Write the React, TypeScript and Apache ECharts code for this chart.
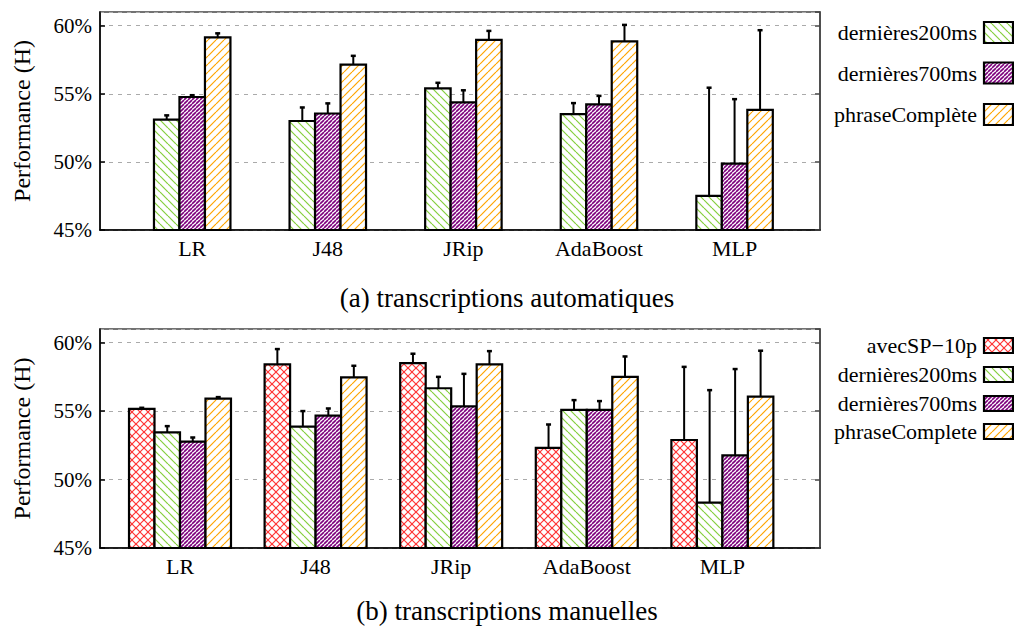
import React, { useEffect, useRef } from "react";
import * as echarts from "echarts";

const categories = ["LR", "J48", "JRip", "AdaBoost", "MLP"];
const yMin = 45;
const yMax = 61;
const yStep = 5;

// (a) transcriptions automatiques
const autoNames = ["dernières200ms", "dernières700ms", "phraseComplète"];
const auto200 = [53.1, 53.0, 55.4, 53.5, 47.5];
const auto200Err = [0.35, 1.03, 0.44, 0.85, 7.98];
const auto700 = [54.76, 53.55, 54.36, 54.22, 49.87];
const auto700Err = [0.17, 0.78, 0.93, 0.66, 4.77];
const autoFull = [59.14, 57.14, 58.96, 58.85, 53.81];
const autoFullErr = [0.33, 0.68, 0.69, 1.24, 5.89];

// (b) transcriptions manuelles
const manNames = ["avecSP\u221210p", "dernières200ms", "dernières700ms", "phraseComplete"];
const manSP = [55.16, 58.42, 58.5, 52.31, 52.89];
const manSPErr = [0.12, 1.15, 0.73, 1.75, 5.38];
const man200 = [53.45, 53.87, 56.67, 55.09, 48.31];
const man200Err = [0.49, 1.17, 0.87, 0.75, 8.26];
const man700 = [52.77, 54.67, 55.35, 55.09, 51.77];
const man700Err = [0.34, 0.56, 2.41, 0.68, 6.34];
const manFull = [55.91, 57.47, 58.42, 57.5, 56.06];
const manFullErr = [0.15, 0.88, 1.0, 1.53, 3.39];

const FONT = "Liberation Serif";
const BW = 0.188; // bar width in category units

function makeHatch(color: string, size: number, dirs: string[], lw: number) {
  const c = document.createElement("canvas");
  c.width = size;
  c.height = size;
  const ctx = c.getContext("2d")!;
  ctx.fillStyle = "#fff";
  ctx.fillRect(0, 0, size, size);
  ctx.strokeStyle = color;
  ctx.lineWidth = lw;
  for (const d of dirs) {
    for (let k = -1; k <= 1; k++) {
      ctx.beginPath();
      if (d === "/") {
        ctx.moveTo(k * size, size);
        ctx.lineTo(k * size + size, 0);
      } else {
        ctx.moveTo(k * size, 0);
        ctx.lineTo(k * size + size, size);
      }
      ctx.stroke();
    }
  }
  return { image: c, repeat: "repeat", imageWidth: size, imageHeight: size } as any;
}

export default function App() {
  const ref = useRef<HTMLDivElement>(null);
  useEffect(() => {
    if (!ref.current) return;
    const chart = echarts.init(ref.current, null, { renderer: "svg" });

    const pGreen = makeHatch("#86cf3e", 8, ["\\"], 1.2);
    const pPurple = makeHatch("#7d007d", 4, ["/"], 1.6);
    const pOrange = makeHatch("#ffa500", 8, ["/"], 1.2);
    const pRed = makeHatch("#ff3535", 8, ["/", "\\"], 1.2);

    const mkSeries = (
      name: string,
      vals: number[],
      errs: number[],
      offset: number,
      fill: any,
      axis: number
    ) => ({
      type: "custom",
      name,
      xAxisIndex: axis,
      yAxisIndex: axis * 2,
      encode: { x: 0, y: 1 },
      data: categories.map((_, i) => [i, vals[i], errs[i]]),
      renderItem: (_params: any, api: any) => {
        const i = api.value(0);
        const v = api.value(1);
        const e = api.value(2);
        const xc = i + offset * BW;
        const p0 = api.coord([xc - BW / 2, v]);
        const p1 = api.coord([xc + BW / 2, yMin]);
        const pe = api.coord([xc, v + e]);
        return {
          type: "group",
          children: [
            {
              type: "rect",
              shape: { x: p0[0], y: p0[1], width: p1[0] - p0[0], height: p1[1] - p0[1] },
              style: { fill, stroke: "#000", lineWidth: 2.2 },
            },
            {
              type: "line",
              shape: { x1: pe[0], y1: p0[1], x2: pe[0], y2: pe[1] },
              style: { stroke: "#000", lineWidth: 2 },
            },
            {
              type: "line",
              shape: { x1: pe[0] - 2.5, y1: pe[1] + 0.5, x2: pe[0] + 2.5, y2: pe[1] + 0.5 },
              style: { stroke: "#000", lineWidth: 2.5 },
            },
          ],
        };
      },
    });

    const xAxisFor = (grid: number, min: number, max: number) => ({
      type: "value",
      gridIndex: grid,
      min,
      max,
      axisLine: { show: true, onZero: false, lineStyle: { color: "#000", width: 1.5 } },
      axisTick: { show: false },
      splitLine: { show: false },
      axisLabel: {
        customValues: [0, 1, 2, 3, 4],
        formatter: (v: number) => categories[Math.round(v)] ?? "",
        fontSize: 22,
        color: "#000",
        fontFamily: FONT,
        margin: 7,
      },
    });

    const yAxesFor = (grid: number) => [
      {
        type: "value",
        gridIndex: grid,
        min: yMin,
        max: yMax,
        interval: yStep,
        position: "left",
        name: "Performance (H)",
        nameLocation: "middle",
        nameGap: 66,
        nameTextStyle: { fontSize: 24, fontFamily: FONT, color: "#000" },
        axisLine: { show: true, onZero: false, lineStyle: { color: "#000", width: 1.5 } },
        axisTick: { show: true, inside: true, length: 5, lineStyle: { color: "#000", width: 1.5 } },
        axisLabel: {
          formatter: "{value}%",
          fontSize: 21,
          fontFamily: FONT,
          color: "#000",
          margin: 8,
          showMaxLabel: false,
        },
        splitLine: { show: true, lineStyle: { color: "#aaa", width: 1, type: [4, 5] } },
      },
      {
        type: "value",
        gridIndex: grid,
        min: yMin,
        max: yMax,
        interval: yStep,
        position: "right",
        axisLine: { show: true, onZero: false, lineStyle: { color: "#444", width: 1.5 } },
        axisTick: { show: true, inside: true, length: 5, lineStyle: { color: "#444", width: 1.5 } },
        axisLabel: { show: false },
        splitLine: { show: false },
      },
    ];

    const legendItems = (names: string[], fills: any[], ys: number[], h: number) => {
      const els: any[] = [];
      names.forEach((n, k) => {
        els.push({
          type: "text",
          x: 977,
          y: ys[k],
          style: {
            text: n,
            fontSize: 22,
            fontFamily: FONT,
            fill: "#000",
            align: "right",
            verticalAlign: "middle",
          },
        });
        els.push({
          type: "rect",
          shape: { x: 984, y: ys[k] - h / 2, width: 29, height: h },
          style: { fill: fills[k], stroke: "#000", lineWidth: 2.2 },
        });
      });
      return els;
    };

    const option: any = {
      animation: false,
      backgroundColor: "#fff",
      textStyle: { fontFamily: FONT },
      grid: [
        { left: 100, top: 12, width: 720, height: 218, show: true, borderColor: "#444", borderWidth: 1.5, backgroundColor: "transparent" },
        { left: 100, top: 329, width: 720, height: 219, show: true, borderColor: "#444", borderWidth: 1.5, backgroundColor: "transparent" },
      ],
      xAxis: [xAxisFor(0, -0.68, 4.63), xAxisFor(1, -0.59, 4.72)],
      yAxis: [...yAxesFor(0), ...yAxesFor(1)],
      series: [
        mkSeries(autoNames[0], auto200, auto200Err, -1, pGreen, 0),
        mkSeries(autoNames[1], auto700, auto700Err, 0, pPurple, 0),
        mkSeries(autoNames[2], autoFull, autoFullErr, 1, pOrange, 0),
        mkSeries(manNames[0], manSP, manSPErr, -1.5, pRed, 1),
        mkSeries(manNames[1], man200, man200Err, -0.5, pGreen, 1),
        mkSeries(manNames[2], man700, man700Err, 0.5, pPurple, 1),
        mkSeries(manNames[3], manFull, manFullErr, 1.5, pOrange, 1),
      ],
      graphic: [
        ...legendItems(autoNames, [pGreen, pPurple, pOrange], [32.5, 73, 114.5], 21),
        ...legendItems(manNames, [pRed, pGreen, pPurple, pOrange], [345.5, 374.5, 403.5, 431.5], 15),
        {
          type: "text",
          x: 507,
          y: 298,
          style: { text: "(a) transcriptions automatiques", fontSize: 27, fontFamily: FONT, fill: "#000", align: "center", verticalAlign: "middle" },
        },
        {
          type: "text",
          x: 507,
          y: 611,
          style: { text: "(b) transcriptions manuelles", fontSize: 27, fontFamily: FONT, fill: "#000", align: "center", verticalAlign: "middle" },
        },
      ],
    };
    chart.setOption(option);
    return () => chart.dispose();
  }, []);
  return <div ref={ref} style={{ position: "fixed", left: 0, top: 0, width: 1014, height: 626 }} />;
}
